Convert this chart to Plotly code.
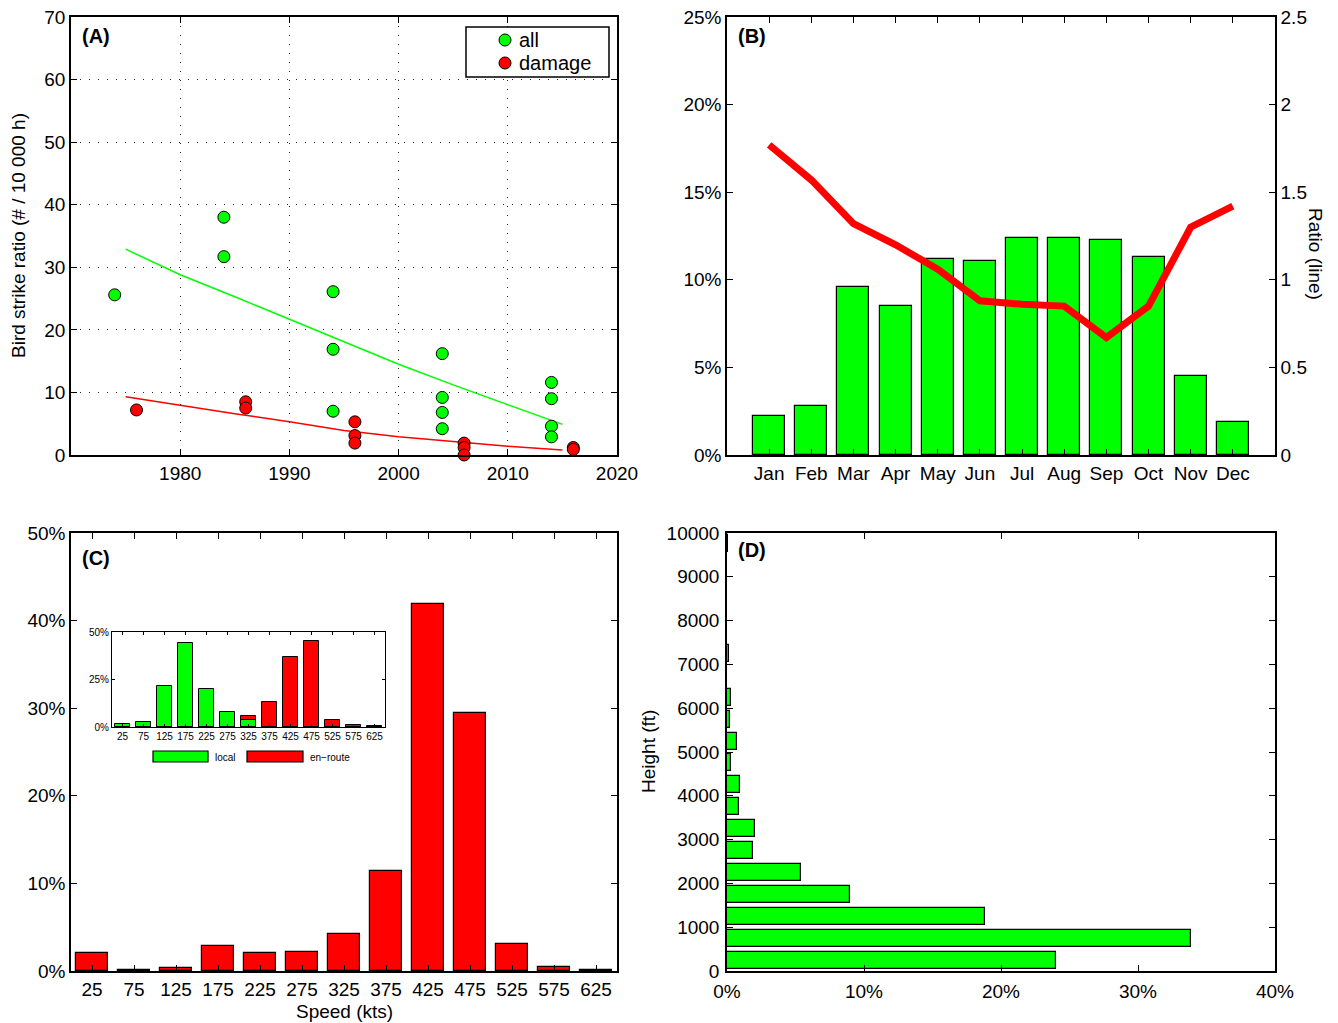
import plotly.graph_objects as go

# ---------------- data ----------------
# Panel A: bird strike ratio per 10 000 h
years_all = [1974, 1984, 1984, 1994, 1994, 1994, 2004, 2004, 2004, 2004, 2014, 2014, 2014, 2014]
ratio_all = [25.6, 38.0, 31.7, 26.1, 16.9, 7.0, 16.2, 9.2, 6.8, 4.2, 11.6, 9.0, 4.6, 2.9]
years_damage = [1976, 1986, 1986, 1996, 1996, 1996, 2006, 2006, 2006, 2016, 2016]
ratio_damage = [7.2, 8.5, 7.5, 5.3, 3.1, 1.9, 1.9, 1.2, 0.0, 1.2, 0.9]
trend_years = [1975, 1980, 1985, 1990, 1995, 2000, 2005, 2010, 2015]
trend_all = [32.9, 28.8, 25.3, 21.7, 18.0, 14.5, 11.2, 8.0, 4.9]
trend_damage = [9.3, 7.9, 6.6, 5.3, 3.9, 2.9, 2.1, 1.4, 0.8]
year_ticks = [1980, 1990, 2000, 2010, 2020]
ratio_a_ticks = [0, 10, 20, 30, 40, 50, 60, 70]
legend_a_labels = ["all", "damage"]

# Panel B: monthly distribution (bars, %) and ratio (line)
months = ["Jan", "Feb", "Mar", "Apr", "May", "Jun", "Jul", "Aug", "Sep", "Oct", "Nov", "Dec"]
month_pct = [2.2, 2.8, 9.6, 8.5, 11.2, 11.1, 12.4, 12.4, 12.3, 11.3, 4.5, 1.9]
month_ratio = [1.77, 1.57, 1.32, 1.20, 1.06, 0.88, 0.86, 0.85, 0.67, 0.85, 1.30, 1.42]
pct_b_ticks = [0, 5, 10, 15, 20, 25]
ratio_ticks = [0, 0.5, 1, 1.5, 2, 2.5]
ratio_ticktext = ["0", "0.5", "1", "1.5", "2", "2.5"]

# Panel C: speed distribution (%)
speed_kts = [25, 75, 125, 175, 225, 275, 325, 375, 425, 475, 525, 575, 625]
speed_pct = [2.0, 0.1, 0.35, 2.9, 2.0, 2.2, 4.2, 11.4, 41.9, 29.4, 3.1, 0.5, 0.1]
pct_c_ticks = [0, 10, 20, 30, 40, 50]
# Inset: local vs en-route (%)
local_pct = [1.4, 2.5, 21.5, 44.4, 19.9, 7.7, 3.9, 0, 0, 0, 0, 0, 0]
enroute_pct = [0, 0, 0, 0, 0, 0, 6.0, 13.4, 36.6, 45.4, 3.9, 1.1, 0.35]
pct_inset_ticks = [0, 25, 50]
legend_inset_labels = ["local", "en\u2212route"]

# Panel D: height distribution (%)
height_ft = [250, 750, 1250, 1750, 2250, 2750, 3250, 3750, 4250, 4750,
             5250, 5750, 6250, 6750, 7250, 7750, 8250, 8750, 9250, 9750]
height_pct = [24.0, 33.9, 18.8, 8.98, 5.39, 1.87, 2.04, 0.85, 0.93, 0.29,
              0.75, 0.22, 0.32, 0.0, 0.17, 0.01, 0.01, 0.01, 0.02, 0.05]
height_ticks = [0, 1000, 2000, 3000, 4000, 5000, 6000, 7000, 8000, 9000, 10000]
pct_d_ticks = [0, 10, 20, 30, 40]

# ---------------- layout helpers ----------------
FIG_W, FIG_H = 1338, 1023


def fx(px):
    return px / FIG_W


def fy(py):
    return 1 - py / FIG_H


def pct_text(vals):
    return ["%g%%" % v for v in vals]


FONT = "Liberation Sans, Arial, Helvetica, sans-serif"
GREEN = "#00ff00"
RED = "#ff0000"
TF = dict(size=19, color="black", family=FONT)


def axis(**kw):
    d = dict(showline=True, linecolor="black", linewidth=1.5, mirror="ticks",
             ticks="inside", ticklen=6, tickwidth=1, tickcolor="black",
             showgrid=False, zeroline=False, tickfont=TF, fixedrange=True,
             automargin=False, ticklabeloverflow="allow")
    d.update(kw)
    return d


fig = go.Figure()

# ---- Panel A ----
fig.add_trace(go.Scatter(x=trend_years, y=trend_all, mode="lines", line=dict(color=GREEN, width=1.5),
                         xaxis="x", yaxis="y", showlegend=False, hoverinfo="skip"))
fig.add_trace(go.Scatter(x=trend_years, y=trend_damage, mode="lines", line=dict(color=RED, width=1.5),
                         xaxis="x", yaxis="y", showlegend=False, hoverinfo="skip"))
fig.add_trace(go.Scatter(x=years_all, y=ratio_all, mode="markers", name=legend_a_labels[0],
                         marker=dict(color=GREEN, size=12, line=dict(color="black", width=1)),
                         xaxis="x", yaxis="y", cliponaxis=False, showlegend=False))
fig.add_trace(go.Scatter(x=years_damage, y=ratio_damage, mode="markers", name=legend_a_labels[1],
                         marker=dict(color=RED, size=12, line=dict(color="black", width=1)),
                         xaxis="x", yaxis="y", cliponaxis=False, showlegend=False))

# ---- Panel B ----
fig.add_trace(go.Bar(x=months, y=month_pct, width=0.76, marker=dict(color=GREEN, line=dict(color="black", width=1.2)),
                     xaxis="x2", yaxis="y2", showlegend=False))
fig.add_trace(go.Scatter(x=months, y=month_ratio, mode="lines", line=dict(color=RED, width=7),
                         xaxis="x2", yaxis="y3", showlegend=False))

# ---- Panel C ----
fig.add_trace(go.Bar(x=speed_kts, y=speed_pct, width=38, marker=dict(color=RED, line=dict(color="black", width=1.2)),
                     xaxis="x4", yaxis="y4", showlegend=False))
# inset
fig.add_trace(go.Bar(x=speed_kts, y=enroute_pct, width=38, name=legend_inset_labels[1],
                     marker=dict(color=RED, line=dict(color="black", width=1)),
                     xaxis="x5", yaxis="y5", showlegend=False))
fig.add_trace(go.Bar(x=speed_kts, y=local_pct, width=38, name=legend_inset_labels[0],
                     marker=dict(color=GREEN, line=dict(color="black", width=1)),
                     xaxis="x5", yaxis="y5", showlegend=False))

# ---- Panel D ----
fig.add_trace(go.Bar(x=height_pct, y=height_ft, orientation="h", width=390,
                     marker=dict(color=GREEN, line=dict(color="black", width=1.2)),
                     xaxis="x6", yaxis="y6", showlegend=False))

A_X = [fx(71), fx(617)]
B_X = [fx(727), fx(1275)]
TOP_Y = [fy(455), fy(17)]
BOT_Y = [fy(971), fy(533)]

grid_kw = dict(showgrid=True, gridcolor="#222222", gridwidth=1, griddash="1px,8px")
small_font = dict(size=10, color="black", family=FONT)

layout = dict(
    template="none",
    width=FIG_W, height=FIG_H, margin=dict(l=0, r=0, t=0, b=0, autoexpand=False),
    paper_bgcolor="white", plot_bgcolor="white",
    font=dict(family=FONT, color="black", size=19),
    barmode="overlay", bargap=0, showlegend=False,
    xaxis=axis(domain=A_X, anchor="y", range=[1970, 2020], tickvals=year_ticks, **grid_kw),
    yaxis=axis(domain=TOP_Y, anchor="x", range=[0, 70], tickvals=ratio_a_ticks, **grid_kw),
    xaxis2=axis(domain=B_X, anchor="y2", type="category", range=[-1, 12]),
    yaxis2=axis(domain=TOP_Y, anchor="x2", range=[0, 25], tickvals=pct_b_ticks,
                ticktext=pct_text(pct_b_ticks), mirror=True),
    yaxis3=axis(domain=TOP_Y, anchor="x2", overlaying="y2", side="right", range=[0, 2.5],
                tickvals=ratio_ticks, ticktext=ratio_ticktext, mirror=False),
    xaxis4=axis(domain=A_X, anchor="y4", range=[0, 650], tickvals=speed_kts),
    yaxis4=axis(domain=BOT_Y, anchor="x4", range=[0, 50], tickvals=pct_c_ticks,
                ticktext=pct_text(pct_c_ticks)),
    xaxis5=axis(domain=[fx(112), fx(385)], anchor="y5", range=[0, 650], tickvals=speed_kts,
                ticklen=3, linewidth=1.2, tickfont=small_font),
    yaxis5=axis(domain=[fy(727), fy(632)], anchor="x5", range=[0, 50], tickvals=pct_inset_ticks,
                ticktext=pct_text(pct_inset_ticks), ticklen=3, linewidth=1.2, tickfont=small_font),
    xaxis6=axis(domain=B_X, anchor="y6", range=[0, 40], tickvals=pct_d_ticks,
                ticktext=pct_text(pct_d_ticks), ticklabelstandoff=2),
    yaxis6=axis(domain=BOT_Y, anchor="x6", range=[0, 10000], tickvals=height_ticks,
                ticktext=[str(v) for v in height_ticks], ticklabelstandoff=2),
)

annotations = []
for lab, px, py in [("(A)", 80, 36), ("(B)", 736, 36), ("(C)", 80, 558), ("(D)", 736, 550)]:
    annotations.append(dict(text="<b>%s</b>" % lab, x=fx(px), y=fy(py), xref="paper", yref="paper",
                            xanchor="left", yanchor="middle", showarrow=False,
                            font=dict(size=20, color="black", family=FONT)))
annotations += [
    dict(text="Bird strike ratio (# / 10 000 h)", x=fx(18), y=fy(236), xref="paper", yref="paper",
         textangle=-90, showarrow=False, xanchor="center", yanchor="middle", font=TF),
    dict(text="Ratio (line)", x=fx(1316), y=fy(254), xref="paper", yref="paper",
         textangle=90, showarrow=False, xanchor="center", yanchor="middle", font=TF),
    dict(text="Speed (kts)", x=fx(344), y=fy(1011), xref="paper", yref="paper",
         showarrow=False, xanchor="center", yanchor="middle", font=TF),
    dict(text="Height (ft)", x=fx(648), y=fy(752), xref="paper", yref="paper",
         textangle=-90, showarrow=False, xanchor="center", yanchor="middle", font=TF),
    # legend texts (panel A)
    dict(text=legend_a_labels[0], x=fx(517), y=fy(40), xref="paper", yref="paper", showarrow=False,
         xanchor="left", yanchor="middle", font=dict(size=20, color="black", family=FONT)),
    dict(text=legend_a_labels[1], x=fx(517), y=fy(63), xref="paper", yref="paper", showarrow=False,
         xanchor="left", yanchor="middle", font=dict(size=20, color="black", family=FONT)),
    # legend texts (inset)
    dict(text=legend_inset_labels[0], x=fx(213), y=fy(757), xref="paper", yref="paper", showarrow=False,
         xanchor="left", yanchor="middle", font=small_font),
    dict(text=legend_inset_labels[1], x=fx(308), y=fy(757), xref="paper", yref="paper", showarrow=False,
         xanchor="left", yanchor="middle", font=small_font),
]
layout["annotations"] = annotations


def circle(cx, cy, color, r=6):
    return dict(type="circle", xref="paper", yref="paper", x0=fx(cx - r), x1=fx(cx + r),
                y0=fy(cy + r), y1=fy(cy - r), fillcolor=color, line=dict(color="black", width=1))


layout["shapes"] = [
    # legend box (panel A)
    dict(type="rect", xref="paper", yref="paper", x0=fx(466), x1=fx(609), y0=fy(77), y1=fy(27),
         fillcolor="white", line=dict(color="black", width=1.5), layer="above"),
    circle(505, 40, GREEN),
    circle(505, 63, RED),
    # inset legend patches
    dict(type="rect", xref="paper", yref="paper", x0=fx(153), x1=fx(208), y0=fy(762), y1=fy(751),
         fillcolor=GREEN, line=dict(color="black", width=1.2)),
    dict(type="rect", xref="paper", yref="paper", x0=fx(247), x1=fx(303), y0=fy(762), y1=fy(751),
         fillcolor=RED, line=dict(color="black", width=1.2)),
]

fig.update_layout(**layout)
fig.write_html("out.html", include_plotlyjs=True, config={"displayModeBar": False},
               post_script="document.body.style.margin='0';document.body.style.overflow='hidden';")
